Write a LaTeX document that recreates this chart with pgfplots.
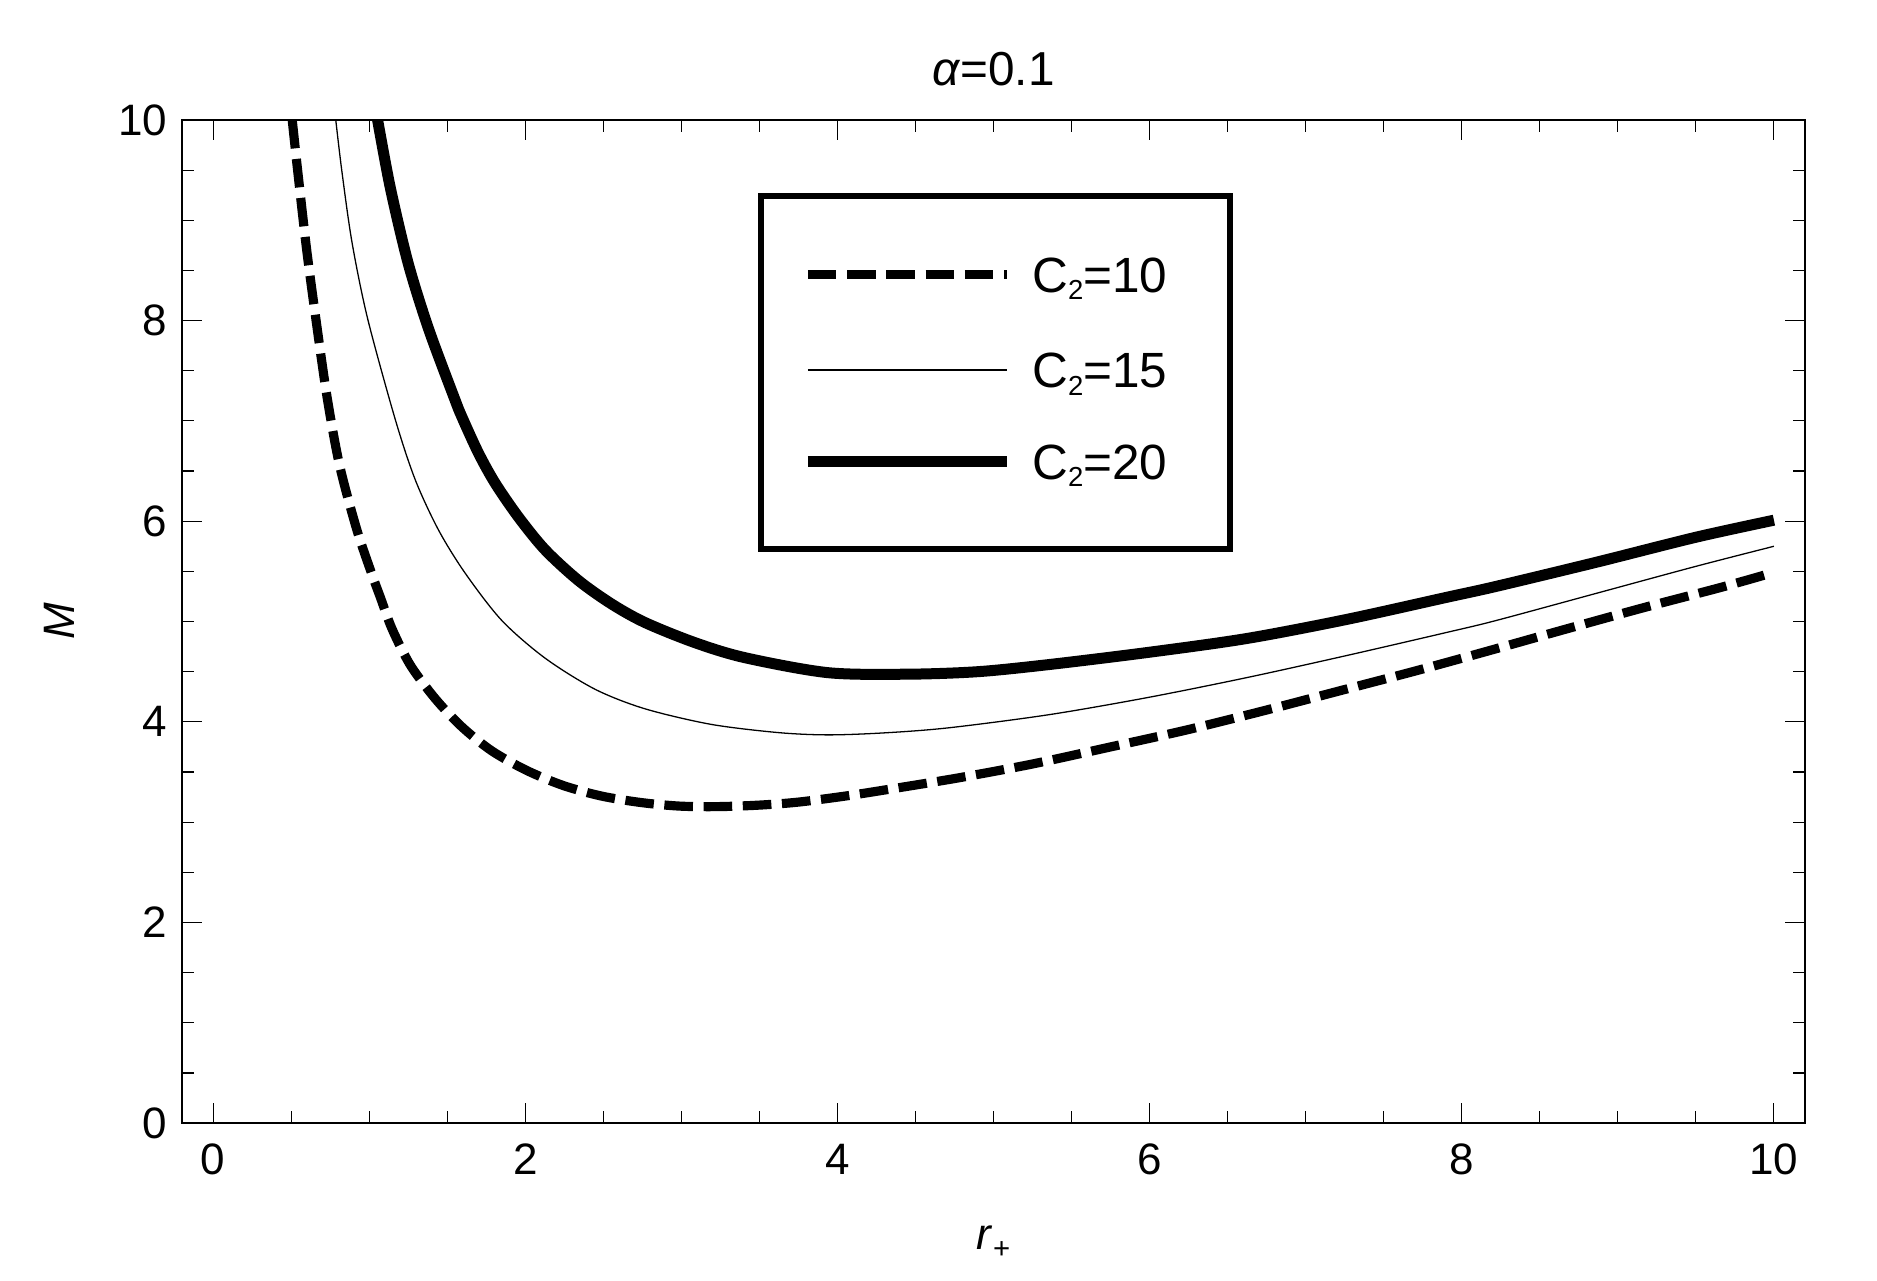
\documentclass[border=0pt]{standalone}
\usepackage{fontspec}
\setmainfont{Liberation Sans}
\usepackage{pgfplots}
\pgfplotsset{compat=1.18}

% C_2 with a small, low subscript as in the reference legend
\newcommand{\Ctwo}[1]{C\raisebox{-2pt}{\fontsize{7.5}{8}\selectfont 2}=#1\rule{5.7pt}{0pt}}

\begin{document}
\begin{tikzpicture}
\useasboundingbox (-49.6pt,-42.8pt) rectangle (462.3pt,306.3pt);
\begin{axis}[
    at={(0pt,0pt)}, anchor=south west,
    scale only axis,
    width=442.7pt, height=273.6pt,
    xmin=-0.2, xmax=10.2,
    ymin=0, ymax=10,
    xtick={0,2,4,6,8,10},
    ytick={0,2,4,6,8,10},
    minor tick num=3,
    tick align=inside,
    xtick pos=both, ytick pos=both,
    major tick length=5.5pt,
    minor tick length=3.4pt,
    every tick/.style={black, line width=0.3pt},
    axis line style={line width=0.4pt},
    /pgf/number format/assume math mode=true,
    ticklabel style={font=\fontsize{12}{14}\selectfont},
    xticklabel style={inner sep=0pt, anchor=north, yshift=-5.5pt},
    yticklabel style={inner sep=0pt, anchor=east, xshift=-3.8pt},
    title={\textit{α}=0.1},
    title style={at={(axis description cs:0.5,1.034)}, anchor=base, yshift=-6pt,
        inner sep=0pt, font=\fontsize{13}{15}\selectfont},
    xlabel={\textit{r}\raisebox{-2.6pt}{\fontsize{8}{9}\selectfont +}},
    xlabel style={at={(axis description cs:0.5,-0.1257)}, anchor=base, inner sep=0pt,
        font=\fontsize{12}{14}\selectfont},
    ylabel={\textit{M}},
    ylabel style={at={(axis description cs:-0.0752,0.5)}, anchor=center, inner sep=0pt,
        font=\fontsize{12}{14}\selectfont},
    legend cell align=left,
    legend image code/.code={\draw[#1] (0pt,0pt) -- (54.3pt,0pt); \path (0pt,-7pt);},
    legend style={at={(0.3547,0.9274)}, anchor=north west,
        draw=black, line width=1.6pt,
        inner xsep=11.4pt, inner ysep=15.3pt,
        row sep=11.5pt, column sep=5.4pt,
        font=\fontsize{13.5}{15}\selectfont,
        nodes={inner sep=0pt, text height=11.1pt, text depth=1.4pt}},
]
% C2 = 10
\addplot[black, line width=2.5pt, dash pattern=on 7.8pt off 2.9pt, smooth] coordinates {
(0.507,10.00) (0.545,9.45) (0.60,8.70) (0.66,8.00) (0.73,7.24) (0.81,6.56)
(0.92,5.92) (1.02,5.46) (1.072,5.24) (1.147,4.925) (1.264,4.565) (1.424,4.23)
(1.594,3.95) (1.786,3.71) (2.01,3.515) (2.244,3.365) (2.489,3.26) (2.745,3.195)
(2.99,3.16) (3.235,3.155) (3.50,3.17) (3.75,3.20) (4.05,3.26) (4.30,3.32)
(4.77,3.44) (5.25,3.58) (5.75,3.75) (6.24,3.92) (6.73,4.11) (7.22,4.31)
(7.71,4.51) (8.20,4.72) (8.68,4.93) (9.17,5.14) (9.66,5.34) (10.0,5.49)
};
\addlegendentry{\Ctwo{10}}
% C2 = 15
\addplot[black, line width=0.35pt, smooth] coordinates {
(0.786,10.00) (0.825,9.49) (0.89,8.78) (0.99,8.02) (1.168,7.01) (1.296,6.41)
(1.445,5.91) (1.616,5.48) (1.85,5.01) (2.127,4.635) (2.447,4.325) (2.767,4.13)
(3.19,3.975) (3.62,3.893) (3.94,3.87) (4.30,3.89) (4.71,3.94) (5.35,4.07)
(5.98,4.24) (6.62,4.44) (7.26,4.66) (7.90,4.89) (8.22,5.01) (8.86,5.28)
(9.50,5.55) (10.0,5.75)
};
\addlegendentry{\Ctwo{15}}
% C2 = 20
\addplot[black, line width=3pt, smooth] coordinates {
(1.054,10.00) (1.136,9.32) (1.25,8.57) (1.38,7.92) (1.545,7.23) (1.594,7.04)
(1.70,6.68) (1.808,6.377) (1.957,6.04) (2.127,5.715) (2.34,5.41) (2.553,5.175)
(2.767,4.99) (3.086,4.79) (3.406,4.64) (3.94,4.49) (4.45,4.475) (4.90,4.50)
(5.35,4.57) (5.98,4.69) (6.62,4.83) (7.26,5.02) (7.90,5.24) (8.22,5.35)
(8.86,5.59) (9.50,5.84) (10.0,6.01)
};
\addlegendentry{\Ctwo{20}}
\end{axis}
\end{tikzpicture}
\end{document}
